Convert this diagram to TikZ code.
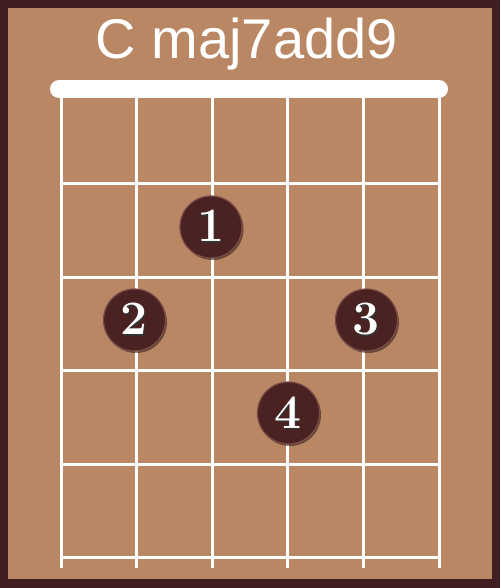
\documentclass[tikz,border=0pt]{standalone}
\usepackage{fontspec}
\setsansfont{Liberation Sans}
\usetikzlibrary{shadows}
\definecolor{framec}{HTML}{3F1F1F}
\definecolor{woodc}{HTML}{BA8765}
\definecolor{dotc}{HTML}{4A2222}
\definecolor{dotrim}{HTML}{7A4A46}
\newcommand{\fingnum}[1]{\rlap{\kern1pt\raisebox{-1.5pt}{\color{black!80}#1}}#1}
\begin{document}
\begin{tikzpicture}[x=1pt,y=-1pt,
  gridline/.style={draw=white,line width=3pt},
  fingerdot/.style={circle,minimum size=62pt,inner sep=0pt,fill=dotc,draw=dotrim,line width=1.2pt,
    drop shadow={shadow xshift=1.5pt,shadow yshift=-2pt,opacity=0.45,fill=black},
    text=white,font=\bfseries\fontsize{48}{48}\selectfont}]
\useasboundingbox (0,0) rectangle (500,588);
\fill[framec] (0,0) rectangle (500,588);
\fill[woodc] (8,8) rectangle (492,579);
\node[text=white,font=\sffamily\fontsize{56}{56}\selectfont] (title) at (246.7,44) {C maj7add9};
\draw[white,line width=18pt,line cap=round] (59,89) -- (439,89);
\foreach \x in {61,136.6,212.2,287.8,363.4,439}
  \draw[gridline] (\x,89) -- (\x,568);
\foreach \y in {183,277,370,464,557}
  \draw[gridline] (61,\y) -- (439,\y);
\node[fingerdot] (f1) at (211,227) {\fingnum{1}};
\node[fingerdot] (f2) at (134.5,320) {\fingnum{2}};
\node[fingerdot] (f3) at (366.5,320) {\fingnum{3}};
\node[fingerdot] (f4) at (288.5,413) {\fingnum{4}};
\end{tikzpicture}
\end{document}
